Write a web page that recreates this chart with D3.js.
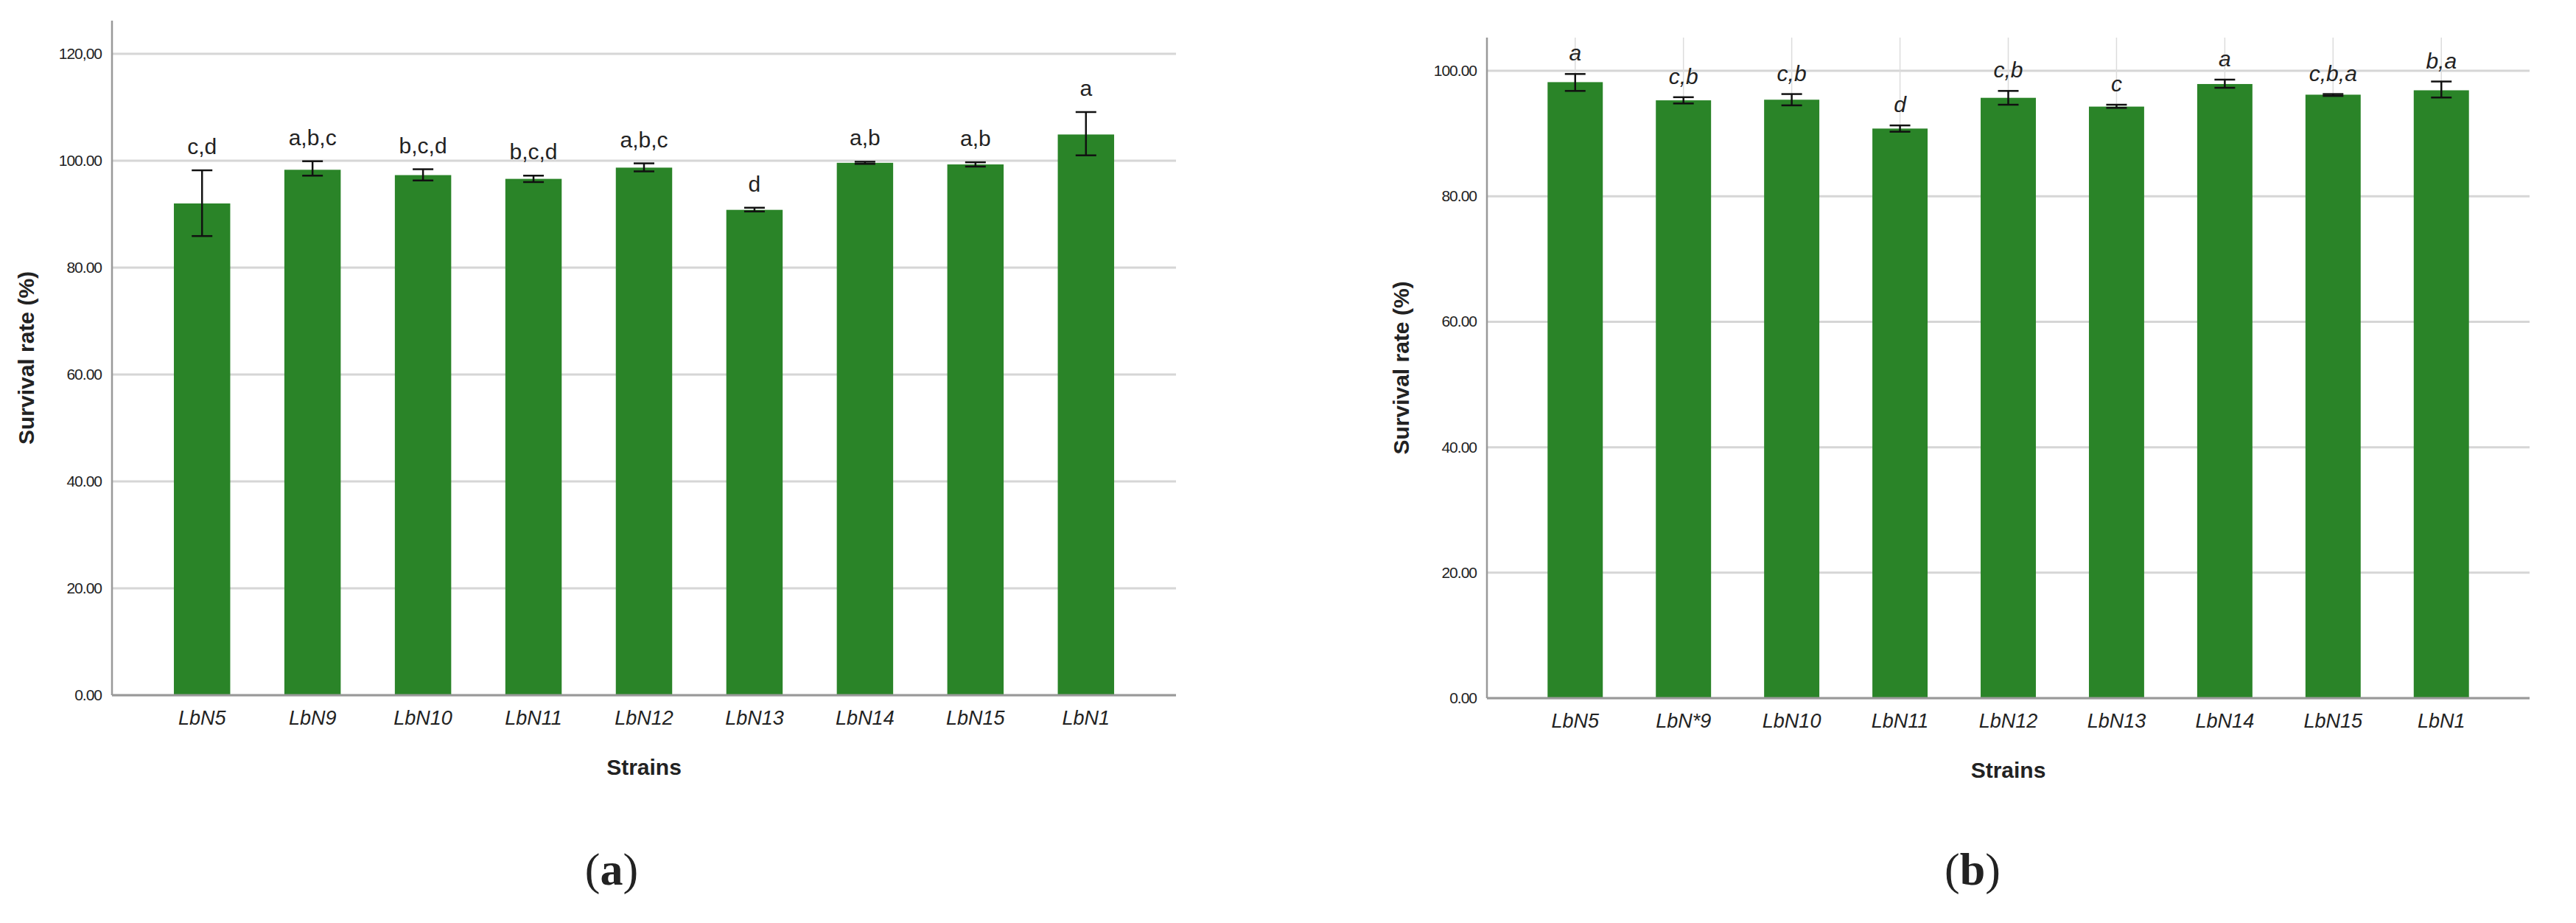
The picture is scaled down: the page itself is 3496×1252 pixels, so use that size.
<!DOCTYPE html>
<html>
<head>
<meta charset="utf-8">
<script src="https://cdn.jsdelivr.net/npm/d3@7"></script>
<style>
  body { margin: 0; background: #fff; }
  text { font-family: "Liberation Sans Narrow", "Liberation Sans", Arial, sans-serif; fill: #222; }
</style>
</head>
<body>
<svg width="3496" height="1252"></svg>
<script>
// Panel (a)
const strainsA = ['LbN5', 'LbN9', 'LbN10', 'LbN11', 'LbN12', 'LbN13', 'LbN14', 'LbN15', 'LbN1']
const meanA = [92.0, 98.3, 97.3, 96.6, 98.7, 90.8, 99.6, 99.3, 104.9]
const lowA = [85.9, 97.2, 96.3, 96.0, 98.0, 90.5, 99.4, 98.9, 101.0]
const highA = [98.2, 99.9, 98.4, 97.2, 99.5, 91.2, 99.8, 99.7, 109.1]
const lettersA = ['c,d', 'a,b,c', 'b,c,d', 'b,c,d', 'a,b,c', 'd', 'a,b', 'a,b', 'a']
const ticksA = ['0.00', '20.00', '40.00', '60.00', '80.00', '100.00', '120,00']

// Panel (b)
const strainsB = ['LbN5', 'LbN*9', 'LbN10', 'LbN11', 'LbN12', 'LbN13', 'LbN14', 'LbN15', 'LbN1']
const meanB = [98.2, 95.3, 95.4, 90.8, 95.7, 94.3, 97.9, 96.2, 96.9]
const lowB = [96.8, 94.8, 94.5, 90.3, 94.6, 94.1, 97.3, 96.0, 95.75]
const highB = [99.5, 95.8, 96.3, 91.3, 96.8, 94.6, 98.6, 96.3, 98.3]
const lettersB = ['a', 'c,b', 'c,b', 'd', 'c,b', 'c', 'a', 'c,b,a', 'b,a']
const ticksB = ['0.00', '20.00', '40.00', '60.00', '80.00', '100.00']

const svg = d3.select('svg')

function drawPanel(p) {
  const g = svg.append('g')
  const x = d3.scaleBand().domain(p.cats).range([p.left, p.right]).paddingInner(0.49).paddingOuter(0.56)
  const y = d3.scaleLinear().domain([0, p.ymax]).range([p.bottom, p.top])

  // horizontal gridlines
  g.selectAll('line.grid').data(p.ticks).enter().append('line')
    .attr('x1', p.left).attr('x2', p.right)
    .attr('y1', (d, i) => y(i * 20)).attr('y2', (d, i) => y(i * 20))
    .attr('stroke', '#d6d6d6').attr('stroke-width', 3)

  // vertical gridlines (panel b only)
  if (p.vgrid) {
    g.selectAll('line.vgrid').data(p.cats).enter().append('line')
      .attr('x1', d => x(d) + x.bandwidth() / 2).attr('x2', d => x(d) + x.bandwidth() / 2)
      .attr('y1', p.top).attr('y2', p.bottom)
      .attr('stroke', '#dcdcdc').attr('stroke-width', 1.5)
  }

  // tick labels
  g.selectAll('text.tick').data(p.ticks).enter().append('text')
    .attr('x', p.left - 14).attr('y', (d, i) => y(i * 20) + 7)
    .attr('text-anchor', 'end').attr('font-size', 21).style('letter-spacing', '-1px')
    .text(d => d)

  // bars
  g.selectAll('rect').data(p.means).enter().append('rect')
    .attr('x', (d, i) => x(p.cats[i])).attr('width', x.bandwidth())
    .attr('y', d => y(d)).attr('height', d => p.bottom - y(d))
    .attr('fill', '#2a8428')

  // error bars
  const cx = i => x(p.cats[i]) + x.bandwidth() / 2
  const eg = g.selectAll('g.err').data(p.cats).enter().append('g')
  eg.append('line').attr('x1', (d, i) => cx(i)).attr('x2', (d, i) => cx(i))
    .attr('y1', (d, i) => y(p.low[i])).attr('y2', (d, i) => y(p.high[i]))
    .attr('stroke', '#111').attr('stroke-width', 2.5)
  eg.append('line').attr('x1', (d, i) => cx(i) - 14).attr('x2', (d, i) => cx(i) + 14)
    .attr('y1', (d, i) => y(p.low[i])).attr('y2', (d, i) => y(p.low[i]))
    .attr('stroke', '#111').attr('stroke-width', 2.5)
  eg.append('line').attr('x1', (d, i) => cx(i) - 14).attr('x2', (d, i) => cx(i) + 14)
    .attr('y1', (d, i) => y(p.high[i])).attr('y2', (d, i) => y(p.high[i]))
    .attr('stroke', '#111').attr('stroke-width', 2.5)

  // significance letters
  g.selectAll('text.letter').data(p.letters).enter().append('text')
    .attr('x', (d, i) => cx(i)).attr('y', (d, i) => y(p.high[i]) - p.letterGap)
    .attr('text-anchor', 'middle').attr('font-size', 30)
    .attr('font-style', p.italicLetters ? 'italic' : 'normal')
    .text(d => d)

  // axes lines
  g.append('line').attr('x1', p.left).attr('x2', p.left).attr('y1', p.top).attr('y2', p.bottom)
    .attr('stroke', '#999').attr('stroke-width', 2.5)
  g.append('line').attr('x1', p.left).attr('x2', p.right).attr('y1', p.bottom).attr('y2', p.bottom)
    .attr('stroke', '#999').attr('stroke-width', 3)

  // category labels
  g.selectAll('text.cat').data(p.cats).enter().append('text')
    .attr('x', (d, i) => cx(i)).attr('y', p.bottom + 40)
    .attr('text-anchor', 'middle').attr('font-size', 27).attr('font-style', 'italic')
    .text(d => d)

  // axis titles
  g.append('text').attr('x', (p.left + p.right) / 2).attr('y', p.bottom + 108)
    .attr('text-anchor', 'middle').attr('font-size', 30).attr('font-weight', 'bold')
    .style('font-family', 'Liberation Sans, Arial, sans-serif')
    .text('Strains')
  g.append('text')
    .attr('transform', `translate(${p.titleX},${(p.top + p.bottom) / 2}) rotate(-90)`)
    .attr('text-anchor', 'middle').attr('font-size', 30).attr('font-weight', 'bold')
    .style('font-family', 'Liberation Sans, Arial, sans-serif')
    .text('Survival rate (%)')

  // panel caption
  const cap = g.append('text').attr('x', p.capX).attr('y', 1200)
    .attr('text-anchor', 'middle').attr('font-size', 62)
    .style('font-family', 'Liberation Serif, Times New Roman, serif')
  cap.append('tspan').text('(')
  cap.append('tspan').attr('font-weight', 'bold').text(p.cap)
  cap.append('tspan').text(')')
}

drawPanel({
  cats: strainsA, means: meanA, low: lowA, high: highA, letters: lettersA, ticks: ticksA,
  left: 152, right: 1596, top: 28, bottom: 943, ymax: 126.2,
  letterGap: 22, italicLetters: false, vgrid: false, titleX: 46, capX: 830, cap: 'a'
})

drawPanel({
  cats: strainsB, means: meanB, low: lowB, high: highB, letters: lettersB, ticks: ticksB,
  left: 2018, right: 3433, top: 51, bottom: 947, ymax: 105.3,
  letterGap: 18, italicLetters: true, vgrid: true, titleX: 1912, capX: 2677, cap: 'b'
})
</script>
</body>
</html>
